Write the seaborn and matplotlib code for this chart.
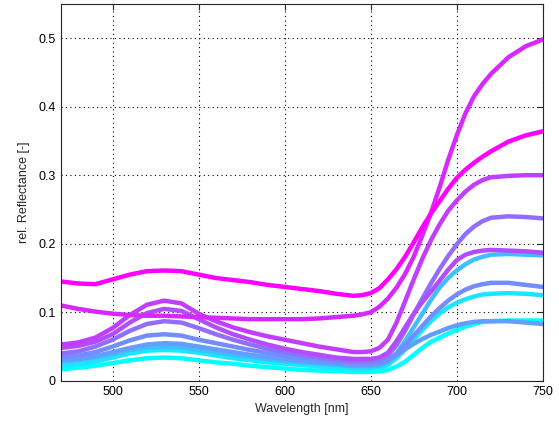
import numpy as np
import pandas as pd
import matplotlib
matplotlib.use("Agg")
import matplotlib.pyplot as plt
import seaborn as sns

wavelength = (list(range(470, 641, 10)) + list(range(645, 721, 5)) + [730, 740, 750])

s01 = [0.017, 0.019, 0.022, 0.026, 0.030, 0.033, 0.034, 0.033, 0.030, 0.027, 0.025, 0.022, 0.020, 0.018, 0.016,
       0.015, 0.014, 0.013,
       0.013, 0.013, 0.014, 0.016, 0.021, 0.028, 0.038, 0.048, 0.057, 0.063, 0.069, 0.074, 0.079, 0.083, 0.086, 0.087,
       0.088, 0.088, 0.088]
s02 = [0.022, 0.024, 0.028, 0.034, 0.040, 0.044, 0.045, 0.044, 0.041, 0.037, 0.033, 0.030, 0.027, 0.025, 0.023,
       0.021, 0.019, 0.018,
       0.018, 0.018, 0.019, 0.023, 0.033, 0.046, 0.060, 0.074, 0.087, 0.098, 0.107, 0.114, 0.119, 0.123, 0.126, 0.127,
       0.128, 0.127, 0.125]
s03 = [0.028, 0.030, 0.034, 0.039, 0.045, 0.049, 0.050, 0.049, 0.045, 0.042, 0.038, 0.035, 0.032, 0.029, 0.027,
       0.025, 0.023, 0.021,
       0.021, 0.021, 0.022, 0.027, 0.040, 0.058, 0.078, 0.098, 0.118, 0.136, 0.150, 0.161, 0.170, 0.177, 0.181, 0.184,
       0.185, 0.184, 0.183]
s04 = [0.030, 0.032, 0.036, 0.042, 0.048, 0.053, 0.055, 0.054, 0.050, 0.046, 0.042, 0.038, 0.035, 0.032, 0.029,
       0.027, 0.025, 0.023,
       0.023, 0.023, 0.025, 0.029, 0.037, 0.046, 0.054, 0.061, 0.067, 0.072, 0.077, 0.081, 0.084, 0.086, 0.087, 0.087,
       0.087, 0.085, 0.083]
s05 = [0.035, 0.037, 0.042, 0.050, 0.059, 0.066, 0.068, 0.066, 0.060, 0.055, 0.050, 0.045, 0.041, 0.037, 0.034,
       0.031, 0.028, 0.026,
       0.026, 0.026, 0.027, 0.031, 0.040, 0.052, 0.066, 0.080, 0.094, 0.106, 0.117, 0.126, 0.133, 0.138, 0.141, 0.143,
       0.143, 0.140, 0.137]
s06 = [0.040, 0.043, 0.050, 0.060, 0.073, 0.083, 0.087, 0.085, 0.077, 0.068, 0.060, 0.053, 0.047, 0.042, 0.038,
       0.034, 0.031, 0.029,
       0.029, 0.029, 0.031, 0.037, 0.052, 0.073, 0.097, 0.120, 0.142, 0.163, 0.182, 0.199, 0.214, 0.225, 0.233, 0.238,
       0.240, 0.239, 0.237]
s07 = [0.048, 0.051, 0.057, 0.068, 0.085, 0.099, 0.105, 0.102, 0.090, 0.078, 0.068, 0.060, 0.053, 0.047, 0.042,
       0.038, 0.034, 0.032,
       0.032, 0.032, 0.034, 0.041, 0.058, 0.078, 0.098, 0.115, 0.130, 0.146, 0.162, 0.176, 0.184, 0.188, 0.190, 0.191,
       0.190, 0.189, 0.187]
s08 = [0.053, 0.056, 0.063, 0.077, 0.096, 0.111, 0.117, 0.113, 0.098, 0.087, 0.078, 0.071, 0.065, 0.060, 0.055,
       0.050, 0.046, 0.042,
       0.042, 0.043, 0.048, 0.060, 0.085, 0.116, 0.148, 0.178, 0.205, 0.228, 0.248, 0.263, 0.276, 0.286, 0.293, 0.297,
       0.299, 0.300, 0.300]
s09 = [0.110, 0.105, 0.101, 0.098, 0.096, 0.095, 0.095, 0.094, 0.093, 0.092, 0.091, 0.090, 0.090, 0.090, 0.090,
       0.091, 0.093, 0.095,
       0.097, 0.100, 0.108, 0.120, 0.136, 0.156, 0.181, 0.212, 0.245, 0.282, 0.322, 0.358, 0.390, 0.415, 0.433, 0.448,
       0.472, 0.488, 0.498]
s10 = [0.145, 0.142, 0.141, 0.148, 0.155, 0.160, 0.161, 0.160, 0.155, 0.150, 0.147, 0.144, 0.140, 0.137, 0.134,
       0.131, 0.127, 0.124,
       0.125, 0.128, 0.135, 0.148, 0.163, 0.181, 0.202, 0.224, 0.244, 0.262, 0.280, 0.296, 0.308, 0.318, 0.327, 0.335,
       0.349, 0.358, 0.364]

series = {"s01": s01, "s02": s02, "s03": s03, "s04": s04, "s05": s05,
          "s06": s06, "s07": s07, "s08": s08, "s09": s09, "s10": s10}
cmap_pos = {"s01": 0.0, "s02": 0.1, "s03": 0.25, "s04": 0.38, "s05": 0.45,
            "s06": 0.57, "s07": 0.70, "s08": 0.76, "s09": 0.84, "s10": 1.0}

rows = []
for name, vals in series.items():
    for w, v in zip(wavelength, vals):
        rows.append({"Wavelength": w, "Reflectance": v, "sample": name})
df = pd.DataFrame(rows)

cool = matplotlib.colormaps["cool"]
palette = {k: cool(v) for k, v in cmap_pos.items()}

sns.set_style("white")
plt.rcParams["font.family"] = ["Liberation Sans", "DejaVu Sans"]

fig = plt.figure(figsize=(5.59, 4.26), dpi=100)
ax = fig.add_axes([0.109, 0.106, 0.862, 0.885])

sns.lineplot(data=df, x="Wavelength", y="Reflectance", hue="sample", palette=palette,
             linewidth=3.2, legend=False, ax=ax, sort=True, estimator=None)

ax.set_xlim(470, 750)
ax.set_ylim(0, 0.55)
ax.set_xticks([500, 550, 600, 650, 700, 750])
ax.set_yticks([0, 0.1, 0.2, 0.3, 0.4, 0.5])
ax.set_yticklabels(["0", "0.1", "0.2", "0.3", "0.4", "0.5"])
ax.grid(True, linestyle=(0, (1, 3)), color="black", linewidth=0.8)
ax.set_axisbelow(True)
for sp in ax.spines.values():
    sp.set_visible(True)
    sp.set_color("#262626")
    sp.set_linewidth(0.8)
ax.tick_params(direction="in", length=4, width=0.8, top=True, right=True,
               labelsize=9, colors="#262626", labelcolor="black", pad=4)
ax.set_xlabel("Wavelength [nm]", fontsize=9, labelpad=3)
ax.set_ylabel("rel. Reflectance [-]", fontsize=9, labelpad=6)

fig.savefig("out.png", dpi=100, facecolor="white")
